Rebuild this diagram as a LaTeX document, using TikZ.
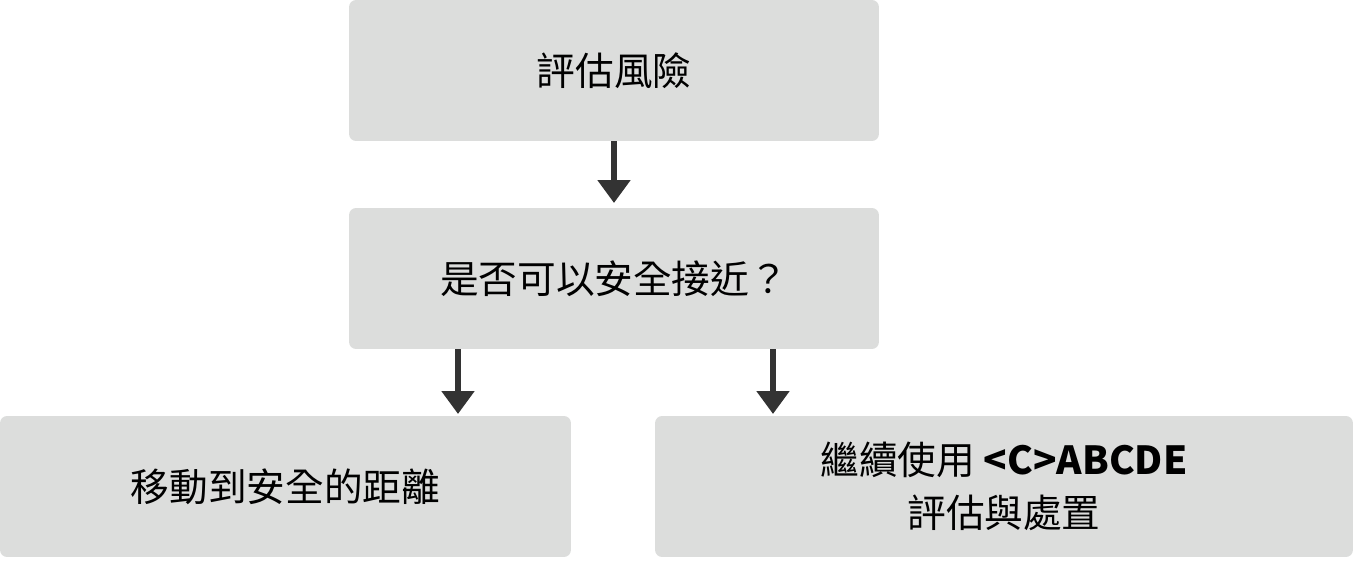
\documentclass[tikz,border=0pt]{standalone}
\usepackage{fontspec}
\setmainfont{Noto Sans CJK TC}
\usetikzlibrary{arrows.meta}
\definecolor{boxgray}{HTML}{DCDDDC}
\definecolor{arrowgray}{HTML}{333333}
\tikzstyle{box} = [fill=boxgray, rounded corners=4pt, inner sep=0pt, align=center, font=\fontsize{22}{30}\selectfont]
\tikzstyle{arrow} = [line width=3.4pt, draw=arrowgray, -{Triangle[width=18pt,length=13pt]}]
\begin{document}
\begin{tikzpicture}[x=0.02cm, y=-0.02cm]
    \useasboundingbox (0,0) rectangle (1353,581);
    \node[box, minimum width=10.6cm, minimum height=2.82cm] (risk) at (614,70.5) {評估風險};
    \node[box, minimum width=10.6cm, minimum height=2.82cm] (safe) at (614,278.5) {是否可以安全接近？};
    \node[box, minimum width=11.42cm, minimum height=2.82cm] (move) at (285.5,486.5) {移動到安全的距離};
    \node[box, minimum width=13.96cm, minimum height=2.82cm] (cont) at (1004,486.5) {繼續使用 \textbf{<C>ABCDE}\\評估與處置};
    % 箭頭
    \coordinate (top) at (614,203);
    \coordinate (ls) at (458,349);
    \coordinate (le) at (458,414);
    \coordinate (rs) at (773,349);
    \coordinate (re) at (773,414);
    \draw[arrow] (risk.south) -- (top);
    \draw[arrow] (ls) -- (le);
    \draw[arrow] (rs) -- (re);
\end{tikzpicture}
\end{document}
